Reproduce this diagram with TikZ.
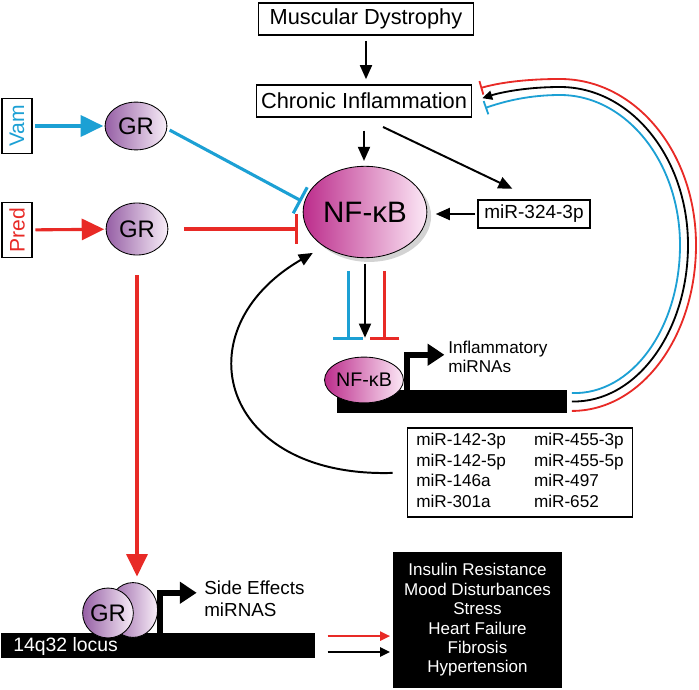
\documentclass[tikz,border=0pt]{standalone}
\usepackage{fontspec}
\setmainfont{Liberation Sans}
\usetikzlibrary{shapes.geometric,arrows.meta,shadows,positioning}
\definecolor{vamblue}{RGB}{28,160,212}
\definecolor{predred}{RGB}{232,42,38}
\definecolor{nfdark}{RGB}{188,45,140}
\definecolor{nflight}{RGB}{252,232,246}
\definecolor{grdark}{RGB}{150,95,165}
\definecolor{grlight}{RGB}{248,238,248}

\begin{document}
\begin{tikzpicture}[x=0.025cm, y=-0.025cm,
    box/.style={draw, line width=1.3pt, inner sep=0pt},
    drug/.style={draw, line width=1.3pt, rotate=90, inner sep=0pt,
                 minimum width=39pt, minimum height=21pt,
                 font=\fontsize{15}{17}\selectfont},
    gr/.style={ellipse, draw, line width=0.6pt, inner sep=0pt,
               left color=grdark, right color=grlight,
               font=\fontsize{17}{19}\selectfont},
    nf/.style={ellipse, draw, line width=0.6pt, inner sep=0pt,
               left color=nfdark, right color=nflight},
    gene/.style={fill=black, inner sep=0pt},
    act/.style={-{Triangle[length=10pt,width=8.5pt]}, line width=1.4pt},
    drugact/.style={-{Triangle[length=16pt,width=15pt]}, line width=2.2pt},
    inh/.style={-{Bar[width=21pt]}, line width=2.2pt},
    loopact/.style={-{Triangle[length=7pt,width=6.5pt]}, line width=1.3pt},
    loopinh/.style={-{Bar[width=10pt]}, line width=1.3pt},
    promoter/.style={-{Triangle[length=12pt,width=15pt]}, line width=4.2pt}]

\useasboundingbox (0,0) rectangle (699,690);

\node[box, minimum width=153pt, minimum height=22.7pt,
      font=\fontsize{15.5}{18}\selectfont] (dystrophy) at (366,19) {Muscular Dystrophy};
\node[box, minimum width=153pt, minimum height=22.7pt,
      font=\fontsize{15.5}{18}\selectfont] (chronic) at (364,101) {Chronic Inflammation};
\node[nf, minimum width=88pt, minimum height=65pt,
      drop shadow={shadow xshift=3pt, shadow yshift=-3pt, opacity=.35},
      font=\fontsize{21}{24}\selectfont] (nfkb) at (365,212) {NF-κB};
\node[box, minimum width=79.4pt, minimum height=19.9pt,
      font=\fontsize{13.5}{16}\selectfont] (mir324) at (534,214) {miR-324-3p};

\node[drug, text=vamblue] (vam) at (17,126) {Vam};
\node[drug, text=predred] (pred) at (17,230) {Pred};
\node[gr, minimum width=44pt, minimum height=34pt] (grvam) at (136,126) {GR};
\node[gr, minimum width=44pt, minimum height=37pt] (grpred) at (137,229) {GR};

\node[gene, minimum width=163pt, minimum height=16.3pt] (infgene) at (452,401.5) {};
\node[nf, minimum width=51pt, minimum height=32.6pt,
      font=\fontsize{14}{16}\selectfont] (nfsmall) at (364,380) {NF-κB};
\node[anchor=west, align=left, inner sep=0pt,
      font=\fontsize{12.2}{14}\selectfont] (inftext) at (448,357) {Inflammatory\\miRNAs};

\node[box, minimum width=160pt, minimum height=63pt,
      font=\fontsize{12.2}{14.5}\selectfont] (mirlist) at (520,472.5) {%
  \begin{tabular}{@{}l@{\hspace{20pt}}l@{}}
  miR-142-3p & miR-455-3p\\
  miR-142-5p & miR-455-5p\\
  miR-146a   & miR-497\\
  miR-301a   & miR-652
  \end{tabular}};

\node[gene, minimum width=224pt, minimum height=17.7pt] (locus) at (158,645.5) {};
\node[anchor=west, inner sep=0pt, text=white,
      font=\fontsize{13.8}{16}\selectfont] (locuslabel) at (13,646) {14q32 locus};
\node[gr, minimum width=35pt, minimum height=39pt] (grback) at (133,610) {};
\node[gr, minimum width=35.5pt, minimum height=35.5pt] (grlocus) at (108,613) {GR};
\node[anchor=west, align=left, inner sep=0pt,
      font=\fontsize{13.4}{15.6}\selectfont] (sidetext) at (204,599) {Side Effects\\miRNAS};

\node[fill=black, text=white, align=center, minimum width=120pt, minimum height=96.4pt,
      font=\fontsize{12.1}{13.8}\selectfont] (effects) at (477.5,620)
  {Insulin Resistance\\Mood Disturbances\\Stress\\Heart Failure\\Fibrosis\\Hypertension};

\draw[act, shorten <=3.5pt, shorten >=3.5pt] (dystrophy.south) -- (dystrophy.south |- chronic.north);
\draw[act, shorten <=9pt, shorten >=3.5pt] (chronic.south) -- (chronic.south |- nfkb.north);
\draw[act, shorten <=15pt, shorten >=17pt] (chronic.south) -- (mir324.north);
\draw[act, shorten <=1.5pt, shorten >=6pt] (mir324.west) -- (mir324.west -| nfkb.east);

\draw[drugact, vamblue, shorten <=2pt, shorten >=1pt] (vam) -- (grvam);
\draw[inh, vamblue, shorten <=2pt, shorten >=2pt] (grvam.-5) -- (nfkb.171);
\draw[drugact, predred, shorten <=2pt, shorten >=1pt] (pred) -- (grpred);
\draw[inh, predred, shorten <=11pt, shorten >=3pt] (grpred.east) -- (grpred.east -| nfkb.west);
\draw[drugact, predred, shorten <=14pt, shorten >=4pt] (grpred.south) -- (grpred.south |- grback.north);

\coordinate (cyantop) at ([xshift=-12pt]nfkb.south);
\coordinate (redtop) at ([xshift=14pt]nfkb.south);
\draw[act, shorten <=4pt, shorten >=13.5pt] (nfkb.south) -- (nfkb.south |- nfsmall.north);
\draw[inh, vamblue, shorten <=9pt, shorten >=12pt] (cyantop) -- (cyantop |- nfsmall.north);
\draw[inh, predred, shorten <=9pt, shorten >=12pt] (redtop) -- (redtop |- nfsmall.north);

\draw[promoter] ([xshift=50pt]infgene.north west) -- ++(0,-35) -- ++(37,0);
\draw[promoter] ([xshift=113.4pt]locus.north west) -- ++(0,-40) -- ++(37,0);

\draw[act, shorten <=10pt, shorten >=9pt] (mirlist.west) .. controls (220,478) and (180,330) .. (nfkb.220);

\coordinate (cyanout) at ([xshift=3.5pt, yshift=6pt]infgene.east);
\coordinate (blackout) at ([xshift=3.5pt]infgene.east);
\coordinate (redout) at ([xshift=3.5pt, yshift=-6.7pt]infgene.east);
\coordinate (cyanin) at ([xshift=9pt, yshift=-5pt]chronic.east);
\coordinate (blackin) at ([xshift=7pt, yshift=2pt]chronic.east);
\coordinate (redin) at ([xshift=5.7pt, yshift=9.2pt]chronic.east);
\draw[loopinh, vamblue] (cyanout) .. controls (632,395) and (680,328) .. (680,245)
  .. controls (680,162) and (626,95) .. (560,95) .. controls (530,95) and (505,101) .. (cyanin);
\draw[loopact] (blackout) .. controls (636,403) and (688,332) .. (688,245)
  .. controls (688,158) and (631,87) .. (560,87) .. controls (528,87) and (502,92) .. (blackin);
\draw[loopinh, predred] (redout) .. controls (641,411) and (696,337) .. (696,245)
  .. controls (696,153) and (636,79) .. (560,79) .. controls (524,79) and (498,83) .. (redin);

\coordinate (redeff) at ([yshift=6.7pt]locus.east);
\coordinate (blackeff) at ([yshift=-4.6pt]locus.east);
\draw[loopact, predred, shorten <=8.5pt, shorten >=2pt] (redeff) -- (redeff -| effects.west);
\draw[loopact, shorten <=8.5pt, shorten >=2pt] (blackeff) -- (blackeff -| effects.west);
\end{tikzpicture}
\end{document}
